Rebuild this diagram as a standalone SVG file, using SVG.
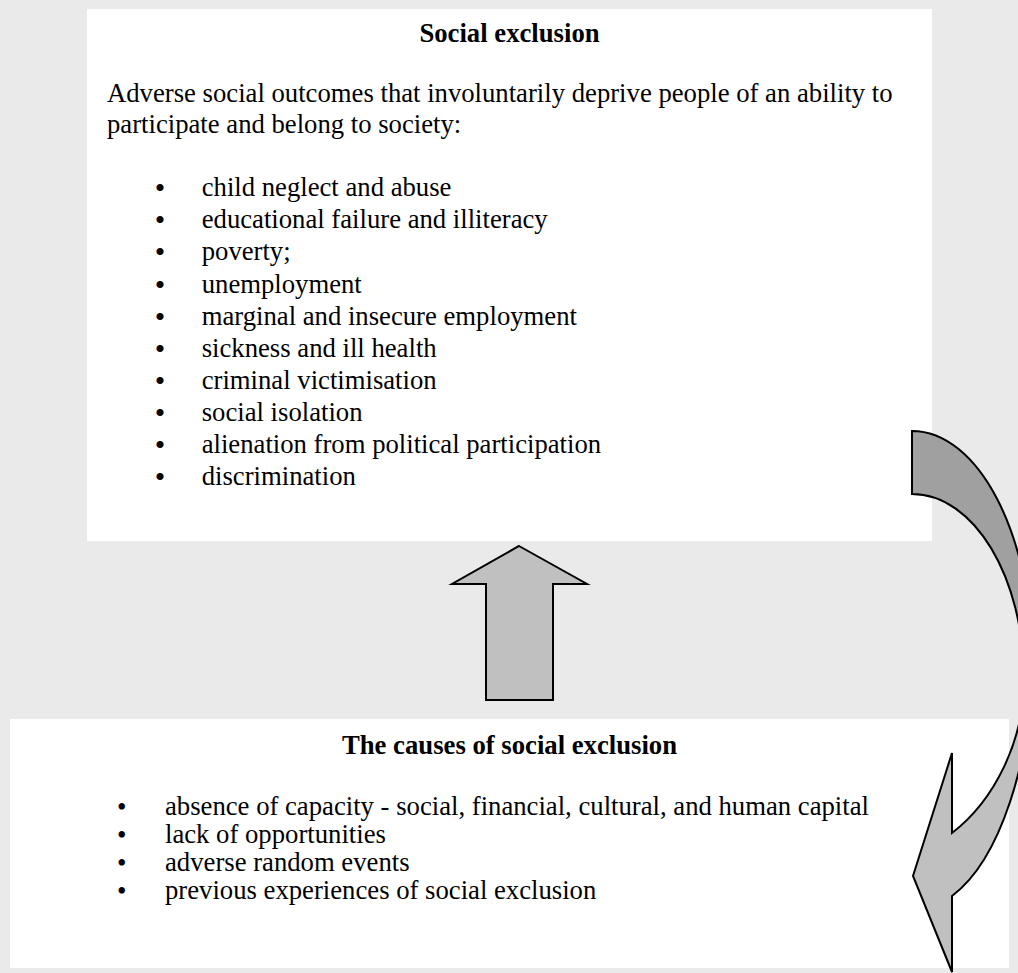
<svg xmlns="http://www.w3.org/2000/svg" width="1018" height="973" viewBox="0 0 1018 973">
<style>
.t{font-family:"Liberation Serif","Times New Roman",serif;font-size:26.7px;fill:#000}
.b{font-weight:bold;text-anchor:middle}
.u{font-size:30px}
.v{font-size:27px}
.box{fill:#fff;stroke:none}
.arr{stroke:#000;stroke-width:2;stroke-linejoin:miter}
</style>
<defs>
<linearGradient id="tone" gradientUnits="userSpaceOnUse" x1="0" y1="0" x2="0" y2="973">
<stop offset="0.69" stop-color="#A0A0A0"/>
<stop offset="0.69" stop-color="#C0C0C0"/>
</linearGradient>
</defs>
<rect width="1018" height="973" fill="#EAEAEA"/>
<g id="node-outcomes" class="t">
<rect class="box" x="87" y="9" width="845" height="532"/>
<text class="b" x="509.5" y="42">Social exclusion</text>
<text x="107" y="102">Adverse social outcomes that involuntarily deprive people of an ability to</text>
<text x="107" y="133">participate and belong to society:</text>
<text y="196"><tspan class="u" x="154.8" dy="2">•</tspan><tspan x="201.7" dy="-2">child neglect and abuse</tspan></text>
<text y="228"><tspan class="u" x="154.8" dy="2">•</tspan><tspan x="201.7" dy="-2">educational failure and illiteracy</tspan></text>
<text y="260"><tspan class="u" x="154.8" dy="2">•</tspan><tspan x="201.7" dy="-2">poverty;</tspan></text>
<text y="293"><tspan class="u" x="154.8" dy="2">•</tspan><tspan x="201.7" dy="-2">unemployment</tspan></text>
<text y="325"><tspan class="u" x="154.8" dy="2">•</tspan><tspan x="201.7" dy="-2">marginal and insecure employment</tspan></text>
<text y="357"><tspan class="u" x="154.8" dy="2">•</tspan><tspan x="201.7" dy="-2">sickness and ill health</tspan></text>
<text y="389"><tspan class="u" x="154.8" dy="2">•</tspan><tspan x="201.7" dy="-2">criminal victimisation</tspan></text>
<text y="421"><tspan class="u" x="154.8" dy="2">•</tspan><tspan x="201.7" dy="-2">social isolation</tspan></text>
<text y="453"><tspan class="u" x="154.8" dy="2">•</tspan><tspan x="201.7" dy="-2">alienation from political participation</tspan></text>
<text y="485"><tspan class="u" x="154.8" dy="2">•</tspan><tspan x="201.7" dy="-2">discrimination</tspan></text>
</g>
<g id="node-causes" class="t">
<rect class="box" x="10" y="719" width="999" height="249"/>
<text class="b" x="509.5" y="754">The causes of social exclusion</text>
<text y="815"><tspan class="v" x="117" dy="1">•</tspan><tspan x="165" dy="-1">absence of capacity - social, financial, cultural, and human capital</tspan></text>
<text y="843"><tspan class="v" x="117" dy="1">•</tspan><tspan x="165" dy="-1">lack of opportunities</tspan></text>
<text y="871"><tspan class="v" x="117" dy="1">•</tspan><tspan x="165" dy="-1">adverse random events</tspan></text>
<text y="899"><tspan class="v" x="117" dy="1">•</tspan><tspan x="165" dy="-1">previous experiences of social exclusion</tspan></text>
</g>
<g id="connectors">
<polygon class="arr" fill="#C0C0C0" points="519,546 587,584 553,584 553,700 486,700 486,584 452,584"/>
<path class="arr" fill="url(#tone)" d="M912,431 C978,431 1032,534 1032,660 C1032,760 1000,860 952,896 L952,972 L913,876 L952,753 L952,833 C995,800 1024,740 1024,680 C1024,577 974,494 912,494 Z"/>
</g>
</svg>
